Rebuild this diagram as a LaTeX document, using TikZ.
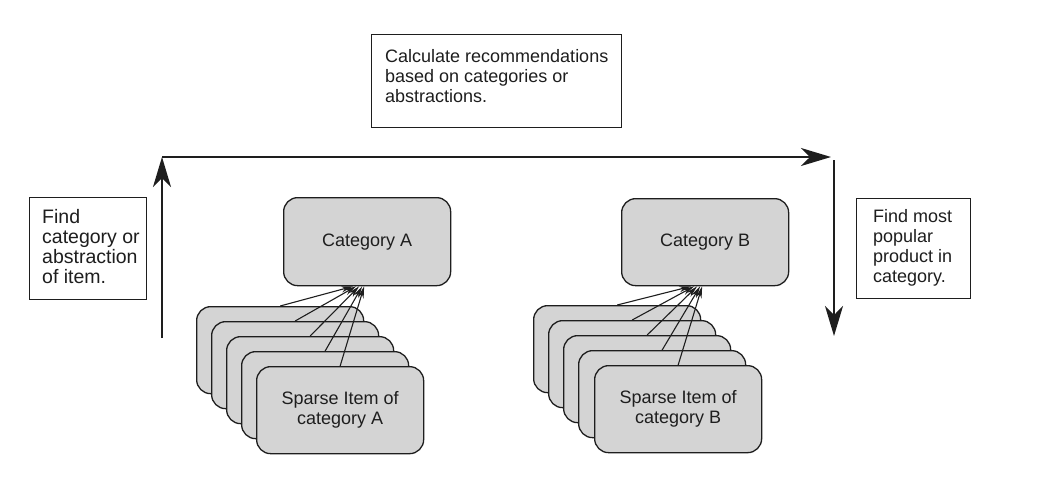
\documentclass[tikz,border=0pt]{standalone}
\usepackage{fontspec}
\setmainfont{Liberation Sans}
\usetikzlibrary{arrows.meta}
\definecolor{boxgray}{RGB}{212,212,212}
\definecolor{ink}{RGB}{30,30,30}
\begin{document}
\begin{tikzpicture}[x=1pt,y=-1pt,
  font=\fontsize{18}{20}\selectfont,
  plainbox/.style={draw=ink, line width=1.3pt, fill=white, inner sep=0pt, anchor=north west},
  txt/.style={inner sep=0pt, align=left, anchor=base west, text=ink},
  roundbox/.style={draw=ink, line width=1.3pt, fill=boxgray, rounded corners=14pt,
    minimum width=167pt, minimum height=87pt, inner sep=0pt, align=center,
    anchor=north west, text=ink},
  bigarrow/.style={draw=ink, line width=2pt, -{Stealth[length=30pt,width=18pt,inset=9pt]}},
  smallarrow/.style={draw=ink, line width=1.1pt, -{Stealth[length=12pt,width=6pt]}}
]
\useasboundingbox (0,0) rectangle (1049,477);

% text boxes (base anchor = baseline of the last line)
\node[plainbox, minimum width=250pt, minimum height=93pt] (calc) at (371,34) {};
\node[txt] (calct) at (385,102) {Calculate recommendations\\based on categories or\\abstractions.};

\node[plainbox, minimum width=117pt, minimum height=102pt] (find) at (29,197) {};
\node[txt, font=\fontsize{19.5}{20}\selectfont] (findt) at (42,283) {Find\\category or\\abstraction\\of item.};

\node[plainbox, minimum width=114pt, minimum height=100pt] (pop) at (856,198) {};
\node[txt] (popt) at (873,282) {Find most\\popular\\product in\\category.};

% category boxes
\node[roundbox, minimum height=88pt] (ca) at (283,197) {Category A};
\node[roundbox, minimum height=87pt] (cb) at (621,198) {Category B};

% sparse item stack A
\node[roundbox] (sa1) at (196,306) {};
\node[roundbox] (sa2) at (211,321) {};
\node[roundbox] (sa3) at (226,336) {};
\node[roundbox] (sa4) at (241,351) {};
\node[roundbox] (sa5) at (256,366) {Sparse Item of\\category A};

% sparse item stack B
\node[roundbox] (sb1) at (533,305) {};
\node[roundbox] (sb2) at (548,320) {};
\node[roundbox] (sb3) at (563,335) {};
\node[roundbox] (sb4) at (578,350) {};
\node[roundbox] (sb5) at (594,365) {Sparse Item of\\category B};

% small arrows
\draw[smallarrow] (sa1.north) -- ([xshift=-14pt]ca.south);
\draw[smallarrow] (sa2.north) -- ([xshift=-11pt]ca.south);
\draw[smallarrow] (sa3.north) -- ([xshift=-8pt]ca.south);
\draw[smallarrow] (sa4.north) -- ([xshift=-5pt]ca.south);
\draw[smallarrow] (sa5.north) -- ([xshift=-3pt]ca.south);

\draw[smallarrow] (sb1.north) -- ([xshift=-14pt]cb.south);
\draw[smallarrow] (sb2.north) -- ([xshift=-11pt]cb.south);
\draw[smallarrow] (sb3.north) -- ([xshift=-8pt]cb.south);
\draw[smallarrow] (sb4.north) -- ([xshift=-5pt]cb.south);
\draw[smallarrow] (sb5.north) -- ([xshift=-3pt]cb.south);

% main flow arrows
\coordinate (up0) at (162,338);
\coordinate (up1) at (162,157);
\coordinate (hr1) at (831,157);
\coordinate (dn0) at (834,160);
\coordinate (dn1) at (834,336);
\draw[bigarrow] (up0) -- (up1);
\draw[bigarrow] (up1) -- (hr1);
\draw[bigarrow] (dn0) -- (dn1);
\end{tikzpicture}
\end{document}
